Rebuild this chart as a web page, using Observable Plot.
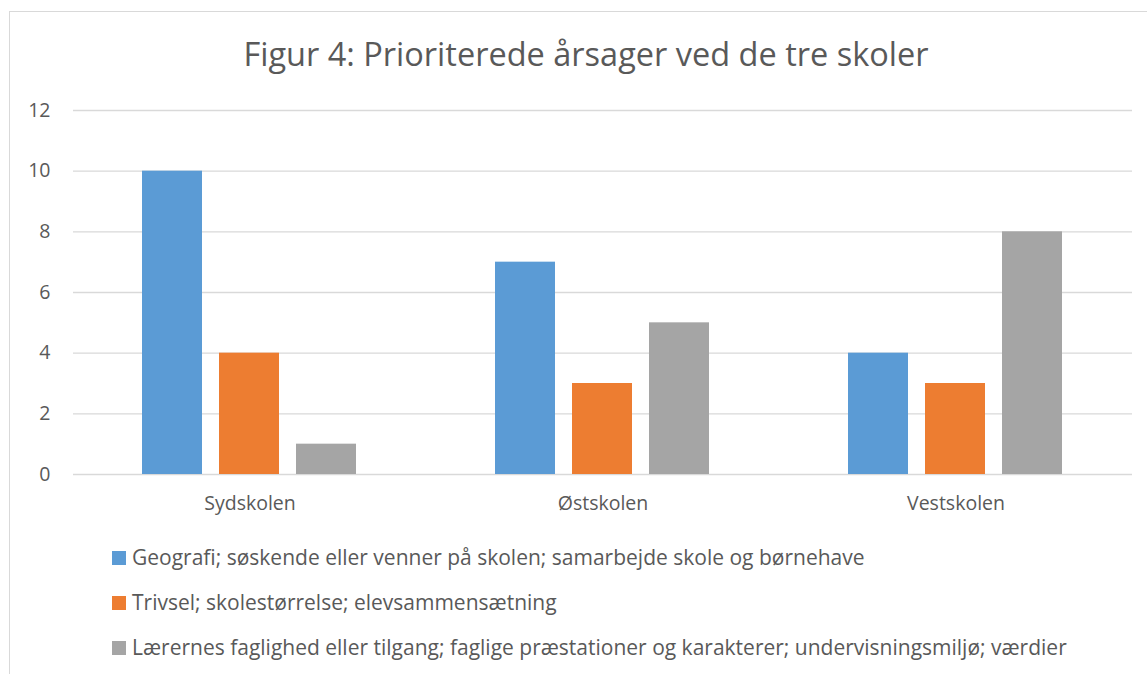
<!DOCTYPE html>
<html>
<head>
<meta charset="utf-8">
<script src="https://cdn.jsdelivr.net/npm/d3@7"></script>
<script src="https://cdn.jsdelivr.net/npm/@observablehq/plot@0.6"></script>
<style>
  html, body { margin:0; padding:0; background:#fff; width:1147px; height:674px; overflow:hidden; font-family: "Open Sans", sans-serif; color:#595959; }
  #frame { position:absolute; left:9px; top:11px; width:1160px; height:700px; border:1.3px solid #d9d9d9; box-sizing:border-box; }
  #title { position:absolute; left:0; width:1172px; top:31px; text-align:center; font-size:32.5px; color:#595959; }
  #chart { position:absolute; left:0; top:0; }
  #legend { position:absolute; left:112px; top:543px; font-size:21px; color:#595959; }
  .row { height:45px; line-height:28px; display:flex; align-items:flex-start; }
  .sw { width:14px; height:14px; margin-right:6px; margin-top:8px; flex:none; }
</style>
</head>
<body>
<div id="frame"></div>
<div id="chart"></div>
<div id="title">Figur 4: Prioriterede årsager ved de tre skoler</div>
<div id="legend"></div>
<script>
const schools = ["Sydskolen", "Østskolen", "Vestskolen"];
const seriesNames = [
  "Geografi; søskende eller venner på skolen; samarbejde skole og børnehave",
  "Trivsel; skolestørrelse; elevsammensætning",
  "Lærernes faglighed eller tilgang; faglige præstationer og karakterer; undervisningsmiljø; værdier"
];
const geografi = [10, 7, 4];
const trivsel = [4, 3, 3];
const laerere = [1, 5, 8];
const yTicks = [0, 2, 4, 6, 8, 10, 12];
const colors = ["#5B9BD5", "#ED7D31", "#A5A5A5"];

const seriesValues = [geografi, trivsel, laerere];
const data = [];
schools.forEach((s, i) => {
  seriesNames.forEach((n, j) => data.push({school: s, series: n, value: seriesValues[j][i]}));
});

const chart = Plot.plot({
  width: 1147,
  height: 530,
  marginLeft: 73,
  marginRight: 15,
  marginTop: 110,
  marginBottom: 56,
  style: {fontFamily: "'Open Sans', sans-serif", color: "#595959", background: "transparent"},
  fx: {domain: schools, padding: 0, label: null},
  x: {domain: seriesNames, paddingInner: 0.218, paddingOuter: 0.872, axis: null},
  y: {domain: [0, 12], label: null},
  color: {domain: seriesNames, range: colors},
  marks: [
    Plot.gridY(yTicks, {stroke: "#d9d9d9", strokeOpacity: 1, strokeWidth: 1.3}),
    Plot.barY(data, {fx: "school", x: "series", y: "value", fill: "series"}),
    Plot.axisY(yTicks, {tickSize: 0, tickPadding: 23, fontSize: 19.5, fill: "#595959", label: null}),
    Plot.axisFx({anchor: "bottom", tickSize: 0, tickPadding: 22, fontSize: 19.5, fill: "#595959", label: null})
  ]
});
document.getElementById("chart").appendChild(chart);

const legend = document.getElementById("legend");
seriesNames.forEach((n, i) => {
  const row = document.createElement("div");
  row.className = "row";
  const sw = document.createElement("div");
  sw.className = "sw";
  sw.style.background = colors[i];
  const t = document.createElement("span");
  t.textContent = n;
  row.appendChild(sw);
  row.appendChild(t);
  legend.appendChild(row);
});
</script>
</body>
</html>
